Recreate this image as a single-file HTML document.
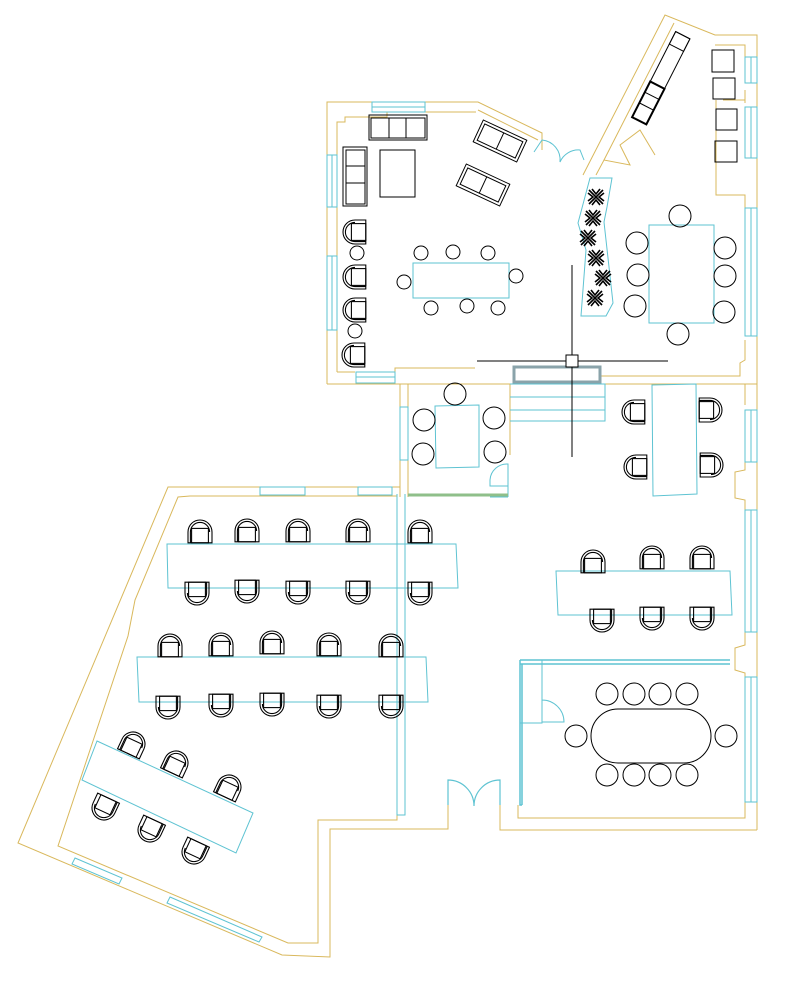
<!DOCTYPE html>
<html><head><meta charset="utf-8"><style>html,body{margin:0;padding:0;background:#fff}svg{display:block}</style></head>
<body>
<svg width="807" height="994" viewBox="0 0 807 994" xmlns="http://www.w3.org/2000/svg">
<defs>
<g id="ch" fill="none" stroke="#000" stroke-width="0.9">
<g transform="scale(1.2)">
<path d="M-10,9 V0 A10,10 0 0 1 10,0 V9 H-10 Z"/>
<path d="M-8,9 V0 A8,8 0 0 1 8,0"/>
<rect x="-7" y="-3" width="14" height="12"/>
</g>
</g>
<g id="pl" stroke="#000" stroke-width="1.6" fill="none">
<path d="M-7,-7 L7,7 M7,-7 L-7,7 M-4,-8 L0,-3 L4,-8 M-4,8 L0,3 L4,8 M-8,-4 L-3,0 L-8,4 M8,-4 L3,0 L8,4"/>
</g>
</defs>
<g fill="none" stroke="#d9b85c" stroke-width="1">
<path d="M327,384 V102 H478 L542,133 L542,150 M478,110 L538,140"/>
<path d="M337,372 V122 H345 V117 H387 V112 H476 M337,372 H355 M395,372 V368 H475"/>
<path d="M327,384 H757 M400,384 V497 M408,384 V497 M510,384 V455"/>
<path d="M583,175 L665,15 L715,35 H757 V830 M596,175 L604,160 L630,165 L620,145 L640,130 L655,155"/>
<path d="M604,160 L674,23 M715,45 L745,45 V62 M745,90 V103 M723,100 H745 M716,100 V195 L745,195 V208"/>
<path d="M745,340 V360 L740,363 V376 H600 M745,384 V405 M745,460 V470 L735,472 V498 L745,500 V510 M745,630 V645 L735,648 V670 L745,673 V678 M745,800 V818 H518 V805"/>
<path d="M400,487 H168 L18,843 L282,955 L330,957 V829 H448 V800 M500,800 V830 H757"/>
<path d="M397,496 H190 L178,497 L135,600 L128,636 L58,846 L288,943 H318 V820 H397 V808"/>
<path d="M408,497 V487 M500,805 V818"/>
</g>
<g fill="none" stroke="#5ec3d2" stroke-width="1">
<rect x="372" y="102" width="53" height="10"/><line x1="372" y1="107" x2="425" y2="107"/>
<rect x="327" y="155" width="10" height="52"/><line x1="332" y1="155" x2="332" y2="207"/>
<rect x="327" y="256" width="10" height="74"/><line x1="332" y1="256" x2="332" y2="330"/>
<rect x="356" y="372" width="39" height="11"/><line x1="356" y1="377" x2="395" y2="377"/>
<rect x="745" y="57" width="12" height="26"/><line x1="751" y1="57" x2="751" y2="83"/>
<rect x="745" y="107" width="12" height="51"/><line x1="751" y1="107" x2="751" y2="158"/>
<rect x="745" y="208" width="12" height="128"/><line x1="751" y1="208" x2="751" y2="336"/>
<rect x="745" y="410" width="12" height="52"/><line x1="751" y1="410" x2="751" y2="462"/>
<rect x="745" y="510" width="12" height="122"/><line x1="751" y1="510" x2="751" y2="632"/>
<rect x="745" y="677" width="12" height="125"/><line x1="751" y1="677" x2="751" y2="802"/>
<rect x="400" y="407" width="8" height="53"/>
<rect x="260" y="487" width="45" height="8"/><rect x="358" y="487" width="34" height="8"/>
<path d="M75,858 L122,878 L119,884 L72,864 Z M170,897 L262,937 L259,942 L167,903 Z"/>
<path d="M397,494 V815 H405 V494"/>
<path d="M590,178 H612 L607,207 L604,222 L613,303 L606,316 H581 L586,250 L578,223 Z"/>
<rect x="413" y="263" width="96" height="35"/>
<rect x="649" y="225" width="65" height="98"/>
<path d="M435,406 L479,405 L479,467 L436,468 Z"/>
<path d="M652,385 L696,384 L697,494 L653,496 Z"/>
<path d="M556,571 L730,571 L732,615 L558,615 Z"/>
<path d="M167,544 L456,544 L458,588 L168,588 Z"/>
<path d="M137,657 L426,657 L428,702 L139,702 Z"/>
<path d="M97,741 L253,813 L236,853 L82,780 Z"/>
<path d="M510,384 H605 V421 H510 M510,397 H605 M510,410 H605"/>
<path d="M520,660 H730 M520,664 H730 M520,660 V805 H522 M522,664 V805" stroke-width="1.5"/>
<path d="M542,660 V723 H520 M542,700 A22,22 0 0 1 564,722 H542"/>
<path d="M448,805 V780 A26,26 0 0 1 474,806 A26,26 0 0 1 500,780 V805" stroke-width="1.2"/>
<path d="M490,497 H508 M490,480 A17,17 0 0 1 508,464 V497 M490,480 V486 H508"/>
<path d="M534,152 L542,140 A20,20 0 0 1 560,162 A20,20 0 0 1 580,150 L584,160"/>
</g>
<rect x="514" y="367" width="86" height="15" fill="none" stroke="#8aa3aa" stroke-width="3"/>
<line x1="408" y1="495" x2="508" y2="495" stroke="#8fbf8a" stroke-width="3"/>
<g fill="none" stroke="#000" stroke-width="1">
<line x1="477" y1="361" x2="668" y2="361"/><line x1="572" y1="265" x2="572" y2="457"/>
<rect x="566" y="355" width="12" height="12" fill="#fff"/>
<rect x="369" y="115" width="58" height="25"/><rect x="371" y="118" width="54" height="20"/><path d="M389,118 V138 M406,118 V138"/>
<rect x="343" y="147" width="24" height="59"/><rect x="346" y="150" width="19" height="54"/><path d="M346,166 H365 M346,183 H365"/>
<rect x="380" y="150" width="35" height="47"/>
<g transform="translate(500,141) rotate(25)"><rect x="-24" y="-12" width="48" height="24"/><rect x="-21" y="-9" width="42" height="18"/><line x1="0" y1="-9" x2="0" y2="9"/></g>
<g transform="translate(483,185) rotate(25)"><rect x="-24" y="-12" width="48" height="24"/><rect x="-21" y="-9" width="42" height="18"/><line x1="0" y1="-9" x2="0" y2="9"/></g>
<g transform="translate(661,78) rotate(27)"><rect x="-8" y="-48" width="16" height="96"/><rect x="-8" y="-48" width="16" height="14"/><rect x="-8" y="8" width="16" height="40" stroke-width="2"/><path d="M-8,20 H8 M-8,32 H8"/></g>
<rect x="712" y="50" width="22" height="22"/><rect x="713" y="78" width="22" height="21"/><rect x="716" y="109" width="21" height="21"/><rect x="715" y="141" width="22" height="21"/>
<circle cx="421" cy="253" r="7"/><circle cx="453" cy="252" r="7"/><circle cx="488" cy="253" r="7"/><circle cx="404" cy="282" r="7"/><circle cx="516" cy="276" r="7"/><circle cx="431" cy="308" r="7"/><circle cx="467" cy="306" r="7"/><circle cx="498" cy="308" r="7"/>
<circle cx="357" cy="253" r="7"/><circle cx="355" cy="331" r="7"/>
<circle cx="680" cy="216" r="11"/><circle cx="637" cy="243" r="11"/><circle cx="638" cy="275" r="11"/><circle cx="635" cy="306" r="11"/><circle cx="725" cy="248" r="11"/><circle cx="725" cy="276" r="11"/><circle cx="724" cy="312" r="11"/><circle cx="678" cy="334" r="11"/>
<circle cx="455" cy="394" r="11"/><circle cx="424" cy="420" r="11"/><circle cx="423" cy="454" r="11"/><circle cx="494" cy="418" r="11"/><circle cx="495" cy="452" r="11"/>
<rect x="591" y="709" width="120" height="54" rx="27"/>
<circle cx="607" cy="694" r="11"/><circle cx="634" cy="694" r="11"/><circle cx="660" cy="694" r="11"/><circle cx="687" cy="694" r="11"/>
<circle cx="607" cy="775" r="11"/><circle cx="634" cy="775" r="11"/><circle cx="660" cy="775" r="11"/><circle cx="687" cy="775" r="11"/>
<circle cx="576" cy="736" r="11"/><circle cx="726" cy="736" r="11"/>
</g>
<use href="#pl" x="596" y="197"/><use href="#pl" x="593" y="218"/><use href="#pl" x="588" y="238"/><use href="#pl" x="596" y="258"/><use href="#pl" x="603" y="278"/><use href="#pl" x="595" y="298"/>
<use href="#ch" transform="translate(355,232) rotate(-90)"/>
<use href="#ch" transform="translate(355,277) rotate(-90)"/>
<use href="#ch" transform="translate(355,310) rotate(-90)"/>
<use href="#ch" transform="translate(354,355) rotate(-90)"/>
<use href="#ch" transform="translate(634,412) rotate(-90)"/><use href="#ch" transform="translate(636,467) rotate(-90)"/>
<use href="#ch" transform="translate(710,410) rotate(90)"/><use href="#ch" transform="translate(711,465) rotate(90)"/>
<use href="#ch" transform="translate(593,562)"/><use href="#ch" transform="translate(652,558)"/><use href="#ch" transform="translate(702,558)"/>
<use href="#ch" transform="translate(602,620) rotate(180)"/><use href="#ch" transform="translate(652,618) rotate(180)"/><use href="#ch" transform="translate(702,618) rotate(180)"/>
<use href="#ch" transform="translate(200,532)"/><use href="#ch" transform="translate(247,531)"/><use href="#ch" transform="translate(298,531)"/><use href="#ch" transform="translate(358,531)"/><use href="#ch" transform="translate(420,532)"/>
<use href="#ch" transform="translate(197,593) rotate(180)"/><use href="#ch" transform="translate(247,591) rotate(180)"/><use href="#ch" transform="translate(298,592) rotate(180)"/><use href="#ch" transform="translate(358,592) rotate(180)"/><use href="#ch" transform="translate(420,593) rotate(180)"/>
<use href="#ch" transform="translate(170,646)"/><use href="#ch" transform="translate(221,645)"/><use href="#ch" transform="translate(272,643)"/><use href="#ch" transform="translate(329,645)"/><use href="#ch" transform="translate(391,646)"/>
<use href="#ch" transform="translate(168,707) rotate(180)"/><use href="#ch" transform="translate(221,705) rotate(180)"/><use href="#ch" transform="translate(272,704) rotate(180)"/><use href="#ch" transform="translate(329,706) rotate(180)"/><use href="#ch" transform="translate(391,706) rotate(180)"/>
<use href="#ch" transform="translate(133,744) rotate(25)"/><use href="#ch" transform="translate(176,763) rotate(25)"/><use href="#ch" transform="translate(229,787) rotate(25)"/>
<use href="#ch" transform="translate(104,808) rotate(205)"/><use href="#ch" transform="translate(150,830) rotate(205)"/><use href="#ch" transform="translate(194,852) rotate(205)"/>
</svg>
</body></html>
